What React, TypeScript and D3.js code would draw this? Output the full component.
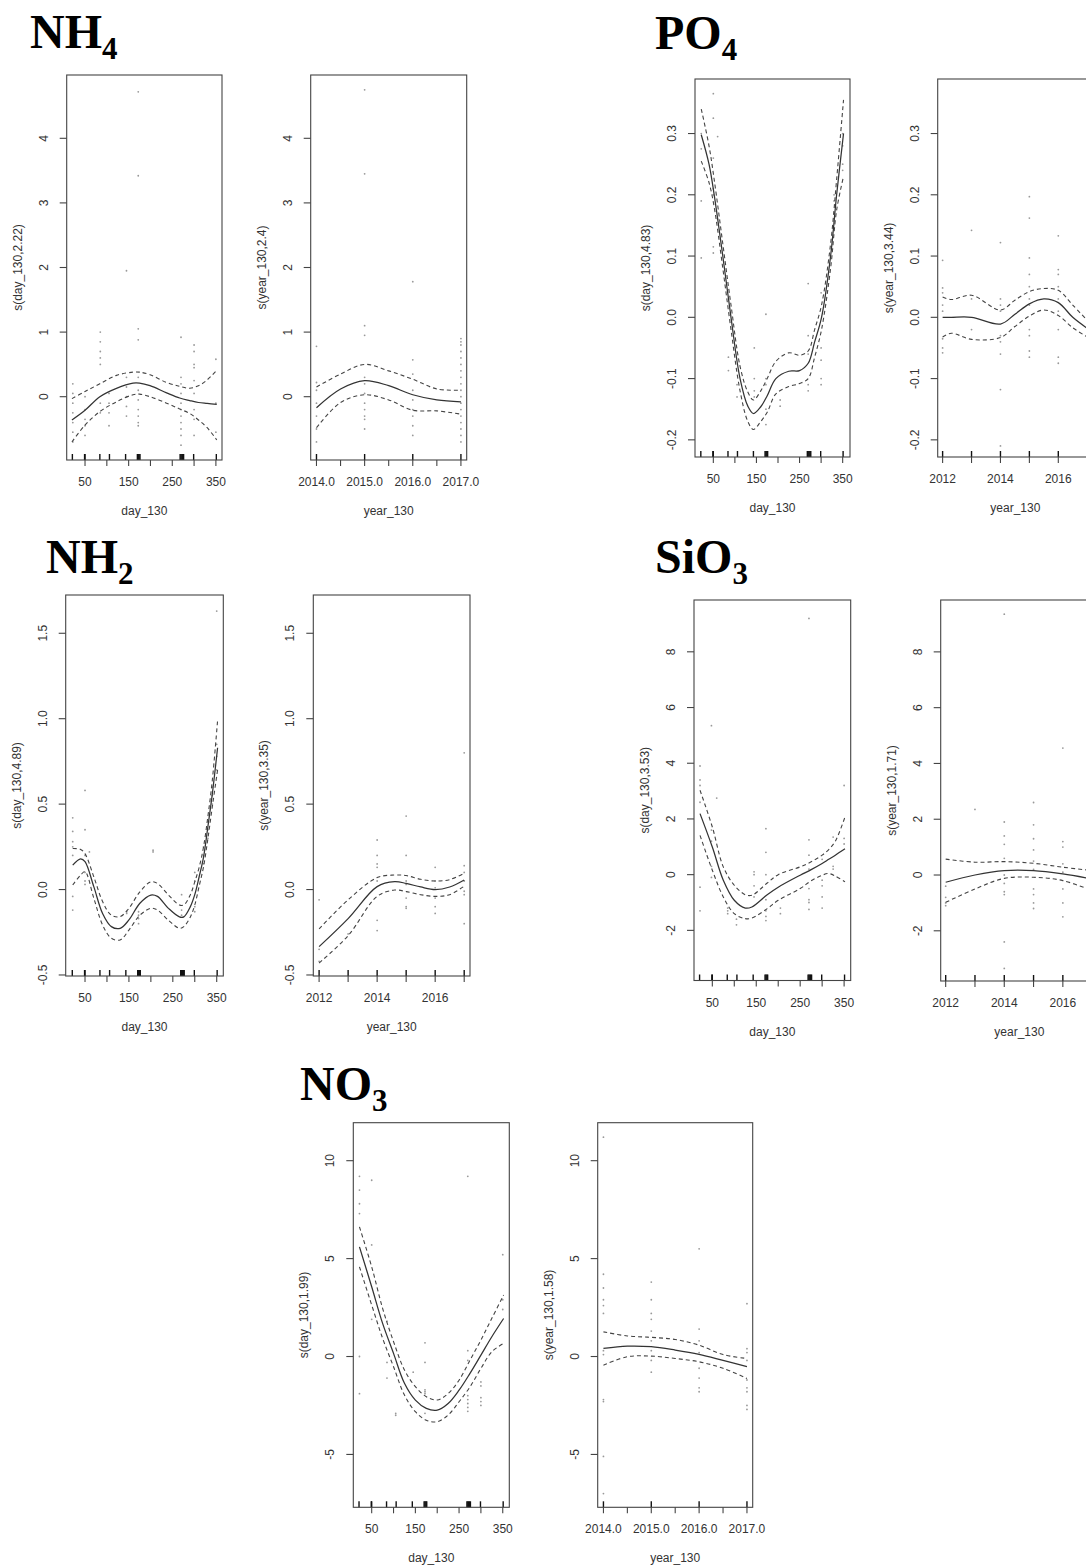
import React from 'react';
import * as d3 from 'd3';

const W = 1086;
const H = 1566;

// ---------- shared ----------
const dayRug = [21, 49, 50, 84, 106, 143, 170, 172, 174, 176, 268, 270, 272, 274, 276, 299, 351];
const dayTicks = [50, 100, 150, 200, 250, 300, 350];
const dayLabels = [50, 150, 250, 350];
const yrTicksA = [2014, 2014.5, 2015, 2015.5, 2016, 2016.5, 2017];
const yrLabelsA = [2014, 2015, 2016, 2017];
const yrRugA = [2014, 2015, 2016, 2017];
const yrTicksB = [2012, 2013, 2014, 2015, 2016, 2017];
const yrLabelsB = [2012, 2014, 2016];
const yrRugB = [2012, 2013, 2014, 2015, 2016, 2017];

// ---------- NH4 ----------
const nh4DayX = [20, 50, 84, 122, 160, 175, 199, 237, 267, 290, 310, 330, 352];
const nh4DayFit = [-0.36, -0.21, 0.0, 0.13, 0.21, 0.21, 0.17, 0.06, -0.02, -0.06, -0.09, -0.105, -0.12];
const nh4DayLo = [-0.70, -0.44, -0.23, -0.08, 0.03, 0.04, 0.0, -0.10, -0.19, -0.26, -0.36, -0.48, -0.67];
const nh4DayHi = [-0.03, 0.08, 0.20, 0.33, 0.38, 0.38, 0.34, 0.22, 0.16, 0.13, 0.17, 0.26, 0.41];
const nh4DayPts: [number, number[]][] = [
  [22, [0.2, 0.05, -0.1, -0.25, -0.4, -0.55, -0.7]],
  [50, [0.0, -0.2, -0.35, -0.45, -0.6]],
  [85, [1.0, 0.85, 0.7, 0.6, 0.5, -0.1, -0.25]],
  [105, [0.05, -0.1, -0.25, -0.45]],
  [145, [1.95, 0.3, 0.15, 0.0, -0.15, -0.3]],
  [172, [4.72, 3.42, 1.05, 0.88, 0.3, 0.1, -0.05, -0.2, -0.3, -0.4, -0.45]],
  [270, [0.92, 0.3, 0.2, 0.05, -0.1, -0.2, -0.3, -0.4, -0.5, -0.6, -0.75]],
  [300, [0.8, 0.7, 0.5, 0.45, 0.25, 0.05, -0.2, -0.35, -0.6]],
  [350, [0.58, -0.1, -0.55]],
];
const nh4YrX = [2014, 2014.5, 2015, 2015.5, 2016, 2016.5, 2017];
const nh4YrFit = [-0.17, 0.12, 0.25, 0.17, 0.03, -0.05, -0.08];
const nh4YrLo = [-0.48, -0.09, 0.03, -0.05, -0.21, -0.22, -0.27];
const nh4YrHi = [0.15, 0.35, 0.50, 0.40, 0.27, 0.12, 0.10];
const nh4YrPts: [number, number[]][] = [
  [2014, [0.78, 0.22, 0.1, -0.1, -0.3, -0.5, -0.7]],
  [2015, [4.75, 3.45, 1.1, 0.95, 0.3, 0.2, 0.05, -0.1, -0.2, -0.3, -0.35, -0.5]],
  [2016, [1.78, 0.57, 0.35, 0.1, -0.05, -0.2, -0.3, -0.45, -0.6]],
  [2017, [0.9, 0.85, 0.8, 0.7, 0.6, 0.5, 0.4, 0.3, 0.2, 0.1, 0.0, -0.1, -0.2, -0.3, -0.4, -0.5, -0.6, -0.7]],
];

// ---------- PO4 ----------
const po4DayX = [22, 40, 52, 72, 91, 112, 130, 143, 160, 175, 195, 225, 250, 270, 285, 301, 322, 336, 352];
const po4DayFit = [0.298, 0.25, 0.20, 0.10, 0.0, -0.10, -0.145, -0.157, -0.146, -0.128, -0.10, -0.088, -0.087, -0.075, -0.04, 0.0, 0.10, 0.20, 0.30];
const po4DayLo = [0.255, 0.22, 0.18, 0.08, -0.02, -0.12, -0.17, -0.183, -0.17, -0.155, -0.125, -0.113, -0.108, -0.10, -0.065, -0.02, 0.08, 0.175, 0.23];
const po4DayHi = [0.34, 0.28, 0.225, 0.12, 0.02, -0.08, -0.122, -0.135, -0.12, -0.10, -0.072, -0.058, -0.062, -0.055, -0.02, 0.02, 0.12, 0.225, 0.355];
const po4DayPts: [number, number[]][] = [
  [22, [0.3, 0.275, 0.19, 0.097]],
  [50, [0.365, 0.325, 0.26, 0.21, 0.2, 0.115, 0.105]],
  [60, [0.295, 0.16]],
  [85, [-0.065, -0.087]],
  [105, [-0.11, -0.13]],
  [145, [-0.05, -0.1, -0.12, -0.13]],
  [172, [0.005, -0.1, -0.11, -0.15, -0.175]],
  [205, [-0.135, -0.145]],
  [270, [0.055, -0.03, -0.06, -0.11, -0.12]],
  [300, [0.04, -0.05, -0.07, -0.1, -0.11]],
  [330, [0.2, 0.19, 0.17]],
  [350, [0.3, 0.28, 0.25, 0.24]],
];
const po4YrX = [2012, 2012.3, 2013, 2014, 2014.5, 2015, 2015.5, 2016, 2016.5, 2017];
const po4YrFit = [0.0, 0.0, 0.0, -0.011, 0.005, 0.022, 0.03, 0.024, 0.0, -0.018];
const po4YrLo = [-0.032, -0.026, -0.036, -0.033, -0.015, 0.002, 0.012, 0.003, -0.017, -0.032];
const po4YrHi = [0.033, 0.029, 0.036, 0.012, 0.028, 0.042, 0.047, 0.044, 0.02, -0.005];
const po4YrPts: [number, number[]][] = [
  [2012, [0.093, 0.048, 0.04, 0.02, 0.01, -0.035, -0.05, -0.058]],
  [2013, [0.142, 0.03, -0.02]],
  [2014, [0.122, 0.03, 0.02, 0.01, -0.03, -0.04, -0.06, -0.118, -0.21]],
  [2015, [0.197, 0.162, 0.097, 0.07, 0.05, 0.03, 0.02, -0.02, -0.03, -0.055, -0.065]],
  [2016, [0.133, 0.078, 0.07, 0.05, 0.03, 0.01, -0.02, -0.065, -0.075]],
  [2017, [0.045, 0.02, -0.03, -0.06, -0.095]],
];

// ---------- NH2 ----------
const nh2DayX = [22, 40, 50, 70, 90, 110, 130, 150, 175, 200, 215, 240, 265, 275, 290, 300, 310, 320, 330, 340, 352];
const nh2DayFit = [0.143, 0.18, 0.163, 0.017, -0.14, -0.217, -0.227, -0.178, -0.08, -0.032, -0.04, -0.11, -0.16, -0.16, -0.10, -0.03, 0.075, 0.19, 0.37, 0.56, 0.83];
const nh2DayLo = [0.027, 0.085, 0.105, -0.05, -0.207, -0.285, -0.295, -0.237, -0.15, -0.11, -0.12, -0.18, -0.227, -0.217, -0.16, -0.09, 0.02, 0.134, 0.30, 0.485, 0.70];
const nh2DayHi = [0.24, 0.235, 0.21, 0.075, -0.07, -0.15, -0.158, -0.11, -0.013, 0.045, 0.036, -0.032, -0.09, -0.09, -0.03, 0.045, 0.13, 0.25, 0.43, 0.64, 0.99];
const nh2DayPts: [number, number[]][] = [
  [22, [0.42, 0.34, 0.28, 0.25, 0.2, -0.04, -0.12]],
  [50, [0.58, 0.35, 0.2, 0.1, 0.05, 0.03]],
  [60, [0.22]],
  [145, [-0.13, -0.14]],
  [172, [-0.13, -0.15, -0.17, -0.2]],
  [205, [0.23, 0.22]],
  [270, [-0.03, -0.12, -0.15]],
  [300, [0.1, 0.05, -0.1, -0.13]],
  [320, [0.25, 0.2, 0.15]],
  [330, [0.4, 0.35, 0.3]],
  [340, [0.6, 0.5, 0.55]],
  [350, [1.63, 0.85, 0.78, 0.7]],
];
const nh2YrX = [2012, 2013, 2014, 2014.6, 2015, 2015.5, 2016, 2016.5, 2017];
const nh2YrFit = [-0.334, -0.17, 0.017, 0.046, 0.036, 0.015, 0.0, 0.015, 0.056];
const nh2YrLo = [-0.43, -0.27, -0.04, -0.003, -0.012, -0.03, -0.04, -0.03, 0.02];
const nh2YrHi = [-0.23, -0.06, 0.07, 0.085, 0.082, 0.06, 0.05, 0.058, 0.095];
const nh2YrPts: [number, number[]][] = [
  [2012, [-0.06, -0.35, -0.42]],
  [2013, [-0.26]],
  [2014, [0.29, 0.2, 0.15, 0.13, 0.05, -0.18, -0.24]],
  [2015, [0.43, 0.2, 0.05, 0.03, -0.05, -0.1, -0.11]],
  [2016, [0.13, 0.05, 0.01, -0.05, -0.1, -0.14]],
  [2017, [0.8, 0.14, 0.1, 0.05, -0.01, -0.03, -0.2]],
];

// ---------- SiO3 ----------
const sioDayX = [22, 50, 75, 100, 125, 140, 175, 200, 250, 275, 300, 315, 330, 352];
const sioDayFit = [2.19, 0.99, -0.2, -0.92, -1.2, -1.16, -0.72, -0.45, -0.02, 0.18, 0.40, 0.55, 0.70, 0.93];
const sioDayLo = [1.41, 0.16, -0.8, -1.4, -1.58, -1.56, -1.22, -0.92, -0.5, -0.22, -0.02, 0.04, -0.05, -0.26];
const sioDayHi = [3.03, 1.71, 0.28, -0.38, -0.72, -0.74, -0.3, 0.0, 0.28, 0.46, 0.70, 0.90, 1.2, 2.07];
const sioDayPts: [number, number[]][] = [
  [22, [3.9, 3.4, 3.2, 2.6, -0.45, -1.3]],
  [48, [5.35, 1.6, 1.2, 0.3, -0.1]],
  [60, [2.75]],
  [85, [-1.2, -1.3, -1.4]],
  [105, [-1.6, -1.8]],
  [145, [0.1, 0.0, -0.4, -0.8]],
  [172, [1.65, 0.8, 0.0, -0.9, -1.3, -1.5, -1.65]],
  [205, [-1.2, -1.4]],
  [270, [9.2, 1.25, 0.7, 0.2, -0.5, -0.9, -1.0, -1.25]],
  [300, [0.55, -0.2, -0.4, -0.8, -1.2]],
  [325, [1.35, 0.3, 0.2]],
  [350, [3.2, 1.3, 1.1]],
];
const sioYrX = [2012, 2013, 2014, 2015, 2016, 2017];
const sioYrFit = [-0.26, 0.0, 0.16, 0.16, 0.04, -0.14];
const sioYrLo = [-0.98, -0.5, -0.12, -0.08, -0.2, -0.56];
const sioYrHi = [0.57, 0.46, 0.48, 0.42, 0.28, 0.16];
const sioYrPts: [number, number[]][] = [
  [2012, [-0.4, -0.8, -1.0, -1.1]],
  [2013, [2.35]],
  [2014, [9.35, 1.9, 1.4, 1.1, 0.6, 0.0, -0.3, -0.6, -0.7, -2.4, -3.35]],
  [2015, [2.6, 1.8, 1.3, 0.9, 0.5, 0.2, -0.5, -0.7, -1.0, -1.2]],
  [2016, [4.55, 1.2, 1.0, 0.4, 0.1, -0.5, -1.0, -1.5]],
  [2017, [1.5, 0.5, -0.3, -0.8]],
];

// ---------- NO3 ----------
const no3DayX = [22, 50, 75, 100, 125, 150, 175, 200, 225, 250, 275, 300, 325, 352];
const no3DayFit = [5.6, 3.56, 1.69, 0.16, -1.37, -2.23, -2.65, -2.74, -2.4, -1.72, -0.86, 0.07, 1.01, 1.94];
const no3DayLo = [4.58, 2.63, 0.93, -0.52, -1.97, -2.82, -3.25, -3.33, -2.99, -2.31, -1.55, -0.61, 0.24, 0.67];
const no3DayHi = [6.62, 4.58, 2.46, 0.76, -0.69, -1.54, -2.05, -2.22, -1.89, -1.21, -0.19, 0.84, 1.95, 3.14];
const no3DayPts: [number, number[]][] = [
  [22, [9.2, 8.5, 7.8, 7.3, 0.0, -1.9]],
  [50, [9.0, 5.7, 1.9]],
  [85, [1.8, -0.3, -1.1]],
  [105, [-2.9, -3.0]],
  [145, [-0.8]],
  [172, [0.7, -0.3, -1.7, -1.8, -1.9, -2.9]],
  [270, [9.2, 0.3, -0.2, -2.0, -2.2, -2.4, -2.6, -2.8]],
  [300, [-1.3, -1.5, -2.1, -2.3, -2.5]],
  [350, [5.2, 2.9, 2.4]],
];
const no3YrX = [2014, 2014.5, 2015, 2015.5, 2016, 2016.5, 2017];
const no3YrFit = [0.41, 0.53, 0.5, 0.33, 0.11, -0.2, -0.52];
const no3YrLo = [-0.44, -0.01, 0.02, -0.1, -0.27, -0.6, -1.12];
const no3YrHi = [1.26, 1.05, 0.98, 0.87, 0.58, 0.1, -0.1];
const no3YrPts: [number, number[]][] = [
  [2014, [11.2, 4.2, 3.5, 2.9, 2.6, 2.2, 0.3, 0.1, -2.2, -2.3, -5.1, -7.0]],
  [2015, [3.8, 2.9, 2.2, 1.9, 1.3, 0.8, 0.3, -0.2, -0.8]],
  [2016, [5.5, 1.4, 0.8, 0.2, -0.6, -1.1, -1.6, -1.8]],
  [2017, [2.7, 0.4, 0.2, -0.2, -1.2, -1.6, -1.8, -2.5, -2.7]],
];

// ---------- titles ----------
const titles = [
  { main: 'NH', sub: '4', x: 30, y: 48 },
  { main: 'PO', sub: '4', x: 655, y: 49 },
  { main: 'NH', sub: '2', x: 46, y: 573 },
  { main: 'SiO', sub: '3', x: 655, y: 573 },
  { main: 'NO', sub: '3', x: 300, y: 1100 },
];

type Panel = {
  box: [number, number, number, number];
  xDomain: [number, number];
  yDomain: [number, number];
  xTicks: number[];
  xLabels: number[];
  xFmt: (v: number) => string;
  yTicks: number[];
  yFmt: (v: number) => string;
  rug: number[];
  xTitle: string;
  yTitle: string;
  cx: number[];
  fit: number[];
  lo: number[];
  hi: number[];
  pts: [number, number[]][];
};

const fInt = (v: number) => d3.format('d')(v).replace('−', '-');
const f1 = (v: number) => d3.format('.1f')(v).replace('−', '-');
const fYr = (v: number) => String(v);

const panels: Panel[] = [
  { box: [66.7, 75, 222, 460], xDomain: [8, 364], yDomain: [-0.98, 4.98], xTicks: dayTicks, xLabels: dayLabels, xFmt: fYr,
    yTicks: [0, 1, 2, 3, 4], yFmt: fInt, rug: dayRug, xTitle: 'day_130', yTitle: 's(day_130,2.22)',
    cx: nh4DayX, fit: nh4DayFit, lo: nh4DayLo, hi: nh4DayHi, pts: nh4DayPts },
  { box: [310.7, 75, 466.7, 460], xDomain: [2013.88, 2017.12], yDomain: [-0.98, 4.98], xTicks: yrTicksA, xLabels: yrLabelsA, xFmt: f1,
    yTicks: [0, 1, 2, 3, 4], yFmt: fInt, rug: yrRugA, xTitle: 'year_130', yTitle: 's(year_130,2.4)',
    cx: nh4YrX, fit: nh4YrFit, lo: nh4YrLo, hi: nh4YrHi, pts: nh4YrPts },
  { box: [695, 79, 850, 457], xDomain: [7.5, 367], yDomain: [-0.228, 0.389], xTicks: dayTicks, xLabels: dayLabels, xFmt: fYr,
    yTicks: [-0.2, -0.1, 0, 0.1, 0.2, 0.3], yFmt: f1, rug: dayRug, xTitle: 'day_130', yTitle: 's(day_130,4.83)',
    cx: po4DayX, fit: po4DayFit, lo: po4DayLo, hi: po4DayHi, pts: po4DayPts },
  { box: [937.7, 79, 1093, 457], xDomain: [2011.83, 2017.2], yDomain: [-0.228, 0.389], xTicks: yrTicksB, xLabels: yrLabelsB, xFmt: fYr,
    yTicks: [-0.2, -0.1, 0, 0.1, 0.2, 0.3], yFmt: f1, rug: yrRugB, xTitle: 'year_130', yTitle: 's(year_130,3.44)',
    cx: po4YrX, fit: po4YrFit, lo: po4YrLo, hi: po4YrHi, pts: po4YrPts },
  { box: [65.7, 595, 223.3, 976], xDomain: [6, 365], yDomain: [-0.506, 1.724], xTicks: dayTicks, xLabels: dayLabels, xFmt: fYr,
    yTicks: [-0.5, 0, 0.5, 1, 1.5], yFmt: f1, rug: dayRug, xTitle: 'day_130', yTitle: 's(day_130,4.89)',
    cx: nh2DayX, fit: nh2DayFit, lo: nh2DayLo, hi: nh2DayHi, pts: nh2DayPts },
  { box: [313.3, 595, 470, 976], xDomain: [2011.8, 2017.2], yDomain: [-0.506, 1.724], xTicks: yrTicksB, xLabels: yrLabelsB, xFmt: fYr,
    yTicks: [-0.5, 0, 0.5, 1, 1.5], yFmt: f1, rug: yrRugB, xTitle: 'year_130', yTitle: 's(year_130,3.35)',
    cx: nh2YrX, fit: nh2YrFit, lo: nh2YrLo, hi: nh2YrHi, pts: nh2YrPts },
  { box: [694, 600, 850.7, 980.5], xDomain: [8.3, 365], yDomain: [-3.8, 9.86], xTicks: dayTicks, xLabels: dayLabels, xFmt: fYr,
    yTicks: [-2, 0, 2, 4, 6, 8], yFmt: fInt, rug: dayRug, xTitle: 'day_130', yTitle: 's(day_130,3.53)',
    cx: sioDayX, fit: sioDayFit, lo: sioDayLo, hi: sioDayHi, pts: sioDayPts },
  { box: [940.7, 600, 1098, 981], xDomain: [2011.83, 2017.2], yDomain: [-3.8, 9.86], xTicks: yrTicksB, xLabels: yrLabelsB, xFmt: fYr,
    yTicks: [-2, 0, 2, 4, 6, 8], yFmt: fInt, rug: yrRugB, xTitle: 'year_130', yTitle: 's(year_130,1.71)',
    cx: sioYrX, fit: sioYrFit, lo: sioYrLo, hi: sioYrHi, pts: sioYrPts },
  { box: [353.3, 1122.7, 509.3, 1507.3], xDomain: [7.9, 365], yDomain: [-7.7, 11.94], xTicks: dayTicks, xLabels: dayLabels, xFmt: fYr,
    yTicks: [-5, 0, 5, 10], yFmt: fInt, rug: dayRug, xTitle: 'day_130', yTitle: 's(day_130,1.99)',
    cx: no3DayX, fit: no3DayFit, lo: no3DayLo, hi: no3DayHi, pts: no3DayPts },
  { box: [597.7, 1122.7, 752.7, 1507.3], xDomain: [2013.88, 2017.12], yDomain: [-7.7, 11.94], xTicks: yrTicksA, xLabels: yrLabelsA, xFmt: f1,
    yTicks: [-5, 0, 5, 10], yFmt: fInt, rug: yrRugA, xTitle: 'year_130', yTitle: 's(year_130,1.58)',
    cx: no3YrX, fit: no3YrFit, lo: no3YrLo, hi: no3YrHi, pts: no3YrPts },
];

const TXT = '#333';
const FONT = '"Liberation Sans", Arial, sans-serif';

function PanelView({ p }: { p: Panel }) {
  const [l, t, r, b] = p.box;
  const x = d3.scaleLinear().domain(p.xDomain).range([l, r]);
  const y = d3.scaleLinear().domain(p.yDomain).range([b, t]);
  const mk = (vals: number[]) =>
    d3.line<number>()
      .x((_, i) => x(p.cx[i]))
      .y((d) => y(d))
      .curve(d3.curveCatmullRom.alpha(0.5))(vals) || '';
  const midY = (t + b) / 2;
  const midX = (l + r) / 2;
  return (
    <g>
      {p.pts.map(([px, ys], i) =>
        ys.map((v, j) => (
          <circle key={`p${i}-${j}`} cx={x(px)} cy={y(v)} r={0.9} fill="#999" />
        ))
      )}
      <path d={mk(p.hi)} fill="none" stroke="#444" strokeWidth={1.1} strokeDasharray="4,3" />
      <path d={mk(p.lo)} fill="none" stroke="#444" strokeWidth={1.1} strokeDasharray="4,3" />
      <path d={mk(p.fit)} fill="none" stroke="#333" strokeWidth={1.25} />
      {p.rug.map((v, i) => (
        <line key={`r${i}`} x1={x(v)} x2={x(v)} y1={b} y2={b - 6} stroke="#111" strokeWidth={1.4} />
      ))}
      <rect x={l} y={t} width={r - l} height={b - t} fill="none" stroke="#444" strokeWidth={1.1} />
      {p.xTicks.map((v, i) => (
        <line key={`xt${i}`} x1={x(v)} x2={x(v)} y1={b} y2={b + 6} stroke="#444" strokeWidth={1.1} />
      ))}
      {p.xLabels.map((v, i) => (
        <text key={`xl${i}`} x={x(v)} y={b + 26} textAnchor="middle" fontSize={12} fontFamily={FONT} fill={TXT}>
          {p.xFmt(v)}
        </text>
      ))}
      {p.yTicks.map((v, i) => (
        <line key={`yt${i}`} x1={l - 7} x2={l} y1={y(v)} y2={y(v)} stroke="#444" strokeWidth={1.1} />
      ))}
      {p.yTicks.map((v, i) => (
        <text key={`yl${i}`} transform={`translate(${l - 19},${y(v)}) rotate(-90)`} textAnchor="middle" fontSize={12}
          fontFamily={FONT} fill={TXT}>
          {p.yFmt(v)}
        </text>
      ))}
      <text x={midX} y={b + 55} textAnchor="middle" fontSize={12} fontFamily={FONT} fill={TXT}>
        {p.xTitle}
      </text>
      <text transform={`translate(${l - 45},${midY}) rotate(-90)`} textAnchor="middle" fontSize={12} fontFamily={FONT} fill={TXT}>
        {p.yTitle}
      </text>
    </g>
  );
}

export default function App() {
  return (
    <svg width={W} height={H} viewBox={`0 0 ${W} ${H}`} style={{ position: 'absolute', left: 0, top: 0, background: '#fff' }}>
      <rect x={0} y={0} width={W} height={H} fill="#fff" />
      {titles.map((tt, i) => (
        <text key={i} x={tt.x} y={tt.y} fontFamily='"Liberation Serif", "Times New Roman", serif' fontWeight="bold" fontSize={48} fill="#000">
          {tt.main}
          <tspan fontSize={31} dy={11}>{tt.sub}</tspan>
        </text>
      ))}
      {panels.map((p, i) => (
        <PanelView key={i} p={p} />
      ))}
    </svg>
  );
}
